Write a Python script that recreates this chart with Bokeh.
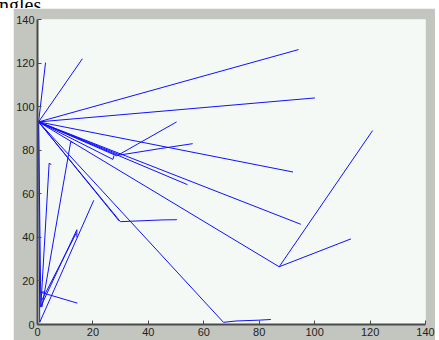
from bokeh.plotting import figure
from bokeh.models import Range1d, FixedTicker, Spacer, Div
from bokeh.layouts import row, column
from bokeh.embed import file_html
from bokeh.resources import INLINE

# Polylines (data coordinates)
paths_x = [
    [0.4, 2.9],
    [0.4, 16.2],
    [0.4, 94.2],
    [0.4, 100.1],
    [0.4, 92.2],
    [0.4, 95.0],
    [0.4, 87.2, 120.9],
    [87.2, 113.1],
    [0.4, 67.1, 71.6, 80.0, 84.2],
    [0.4, 29.9, 45.0, 50.3],
    [0.4, 29.4],
    [0.4, 54.1],
    [0.4, 27.2, 27.6],
    [0.4, 28.6, 50.2],
    [0.4, 29.8, 44.5, 56.0],
    [0.4, 0.8],
    [0.4, 1.2],
    [1.2, 4.2, 5.0],
    [1.6, 12.0, 12.9],
    [1.1, 14.4],
    [1.1, 2.6],
    [0.8, 20.3],
    [1.1, 14.2, 14.2],
    [1.5, 14.0],
]
paths_y = [
    [93.0, 120.2],
    [93.0, 122.0],
    [93.0, 126.2],
    [93.0, 104.0],
    [93.0, 70.0],
    [93.0, 46.0],
    [93.0, 26.5, 89.0],
    [26.5, 39.3],
    [93.0, 1.0, 1.6, 2.0, 2.3],
    [93.0, 47.2, 48.0, 48.1],
    [93.0, 47.6],
    [93.0, 64.2],
    [93.0, 75.8, 77.6],
    [93.0, 77.4, 93.0],
    [93.0, 77.8, 80.8, 83.0],
    [93.0, 1.0],
    [93.0, 8.0],
    [8.0, 74.0, 73.4],
    [8.0, 84.0, 83.4],
    [14.8, 9.8],
    [14.8, 15.0],
    [1.0, 57.0],
    [8.0, 43.5, 40.0],
    [11.0, 42.0],
]
tick_values = [0, 20, 40, 60, 80, 100, 120, 140]
caption_fragment = "ngles"

p = figure(
    frame_width=388, frame_height=305,
    x_range=Range1d(0, 140), y_range=Range1d(0, 140),
    output_backend="svg", toolbar_location=None,
    min_border_left=22, min_border_right=10,
    min_border_top=11, min_border_bottom=16,
)
p.background_fill_color = "#f5f9f6"
p.border_fill_color = "#c3c6bf"
p.outline_line_color = None
p.xgrid.visible = False
p.ygrid.visible = False

p.multi_line(xs=paths_x, ys=paths_y, line_color="#1010ff", line_width=1)

for ax in (p.xaxis[0], p.yaxis[0]):
    ax.ticker = FixedTicker(ticks=tick_values)
    ax.major_tick_in = 4
    ax.major_tick_out = 0
    ax.minor_tick_line_color = None
    ax.axis_line_color = "#4a4a4a"
    ax.axis_line_width = 2
    ax.major_tick_line_color = "#4a4a4a"
    ax.major_label_text_font = "Liberation Sans"
    ax.major_label_text_font_size = "11px"
    ax.major_label_text_color = "#222222"
    ax.major_label_standoff = 3

caption = Div(
    text=('<div style="font-family:\'Liberation Serif\';font-size:20px;'
          'line-height:20px;margin-top:-12px;margin-left:-1px;color:#000;'
          'white-space:nowrap">' + caption_fragment + '</div>'),
    width=60, height=8, margin=0, styles={"overflow": "hidden"},
)

layout = column(caption, row(Spacer(width=13, height=332, margin=0), p), spacing=0)
open("out.html", "w").write(file_html(layout, INLINE))
